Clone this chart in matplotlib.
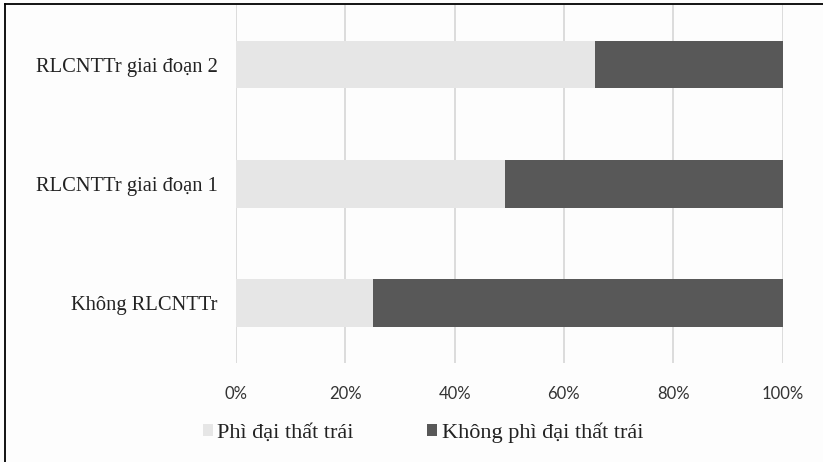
import matplotlib.pyplot as plt
from matplotlib.lines import Line2D
from matplotlib.ticker import PercentFormatter

# stacked horizontal bars, share of patients (%)
categories = ["Không RLCNTTr", "RLCNTTr giai đoạn 1", "RLCNTTr giai đoạn 2"]
phi_dai = [25.1, 49.3, 65.6]
khong_phi_dai = [74.9, 50.7, 34.4]
series_names = ["Phì đại thất trái", "Không phì đại thất trái"]
x_ticks = [0, 20, 40, 60, 80, 100]

light = "#e6e6e6"
dark = "#585858"
serif = ["Liberation Serif", "DejaVu Serif"]

fig = plt.figure(figsize=(8.23, 4.62), dpi=100)
fig.patch.set_facecolor("#fdfdfd")
ax = fig.add_axes([236 / 823, 1 - 362.5 / 462, (782.5 - 236) / 823, (362.5 - 5) / 462])
ax.set_facecolor("#fdfdfd")

ypos = range(len(categories))
ax.barh(ypos, phi_dai, height=0.4, color=light, label=series_names[0], zorder=2)
ax.barh(ypos, khong_phi_dai, left=phi_dai, height=0.4, color=dark,
        label=series_names[1], zorder=2)

ax.set_xlim(0, 100)
ax.set_ylim(-0.5, len(categories) - 0.5)
ax.set_xticks(x_ticks)
ax.xaxis.set_major_formatter(PercentFormatter(decimals=0))
ax.set_yticks(list(ypos))
ax.set_yticklabels(categories, fontfamily=serif, fontsize=14.8, color="#222222")
for lab in ax.get_xticklabels():
    lab.set_fontfamily(["Lato", "DejaVu Sans"])
    lab.set_fontsize(12)
    lab.set_color("#333333")
ax.tick_params(axis="both", length=0)
ax.tick_params(axis="y", pad=13)
ax.tick_params(axis="x", pad=17)
ax.grid(axis="x", color="#d9d9d9", linewidth=1.3, zorder=0)
for s in ax.spines.values():
    s.set_visible(False)

# legend under the axis
h, l = ax.get_legend_handles_labels()
fig.legend(h, l, loc="center", bbox_to_anchor=(0.514, 1 - 433 / 462), ncol=2,
           frameon=False, prop={"family": serif, "size": 16},
           handlelength=0.45, handleheight=0.45, handletextpad=0.2,
           columnspacing=3.3, labelcolor="#222222")

# frame lines (top and left)
fig.add_artist(Line2D([5 / 823, 1], [1 - 4 / 462, 1 - 4 / 462], color="black", lw=1.3,
                      transform=fig.transFigure))
fig.add_artist(Line2D([5 / 823, 5 / 823], [0, 1 - 4 / 462], color="black", lw=1.3,
                      transform=fig.transFigure))

fig.savefig("out.png", dpi=100, facecolor=fig.get_facecolor())
